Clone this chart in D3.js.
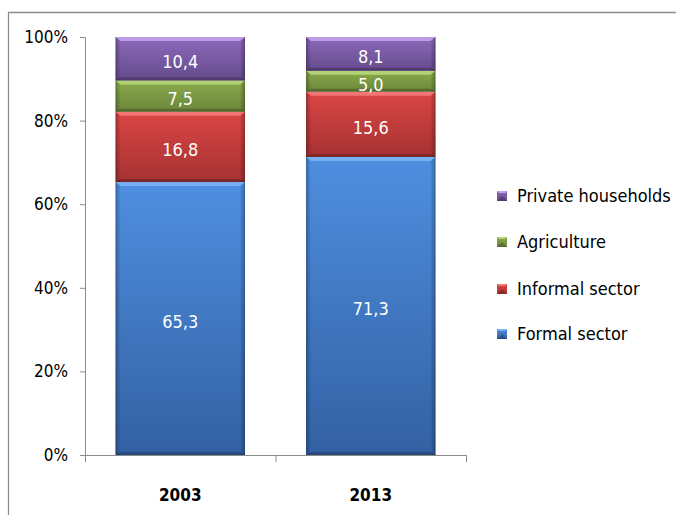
<!DOCTYPE html>
<html><head><meta charset="utf-8">
<script src="https://cdn.jsdelivr.net/npm/d3@7"></script>
<style>
html,body{margin:0;padding:0;background:#fff;}
text{font-family:"Liberation Sans Narrow","Arial Narrow","DejaVu Sans Condensed",sans-serif;}
</style></head><body>
<script>
const categories = ["2003", "2013"];
const seriesNames = ["Formal sector", "Informal sector", "Agriculture", "Private households"];
const formalSector = [65.3, 71.3];
const informalSector = [16.8, 15.6];
const agriculture = [7.5, 5.0];
const privateHouseholds = [10.4, 8.1];
const yTicks = [0, 20, 40, 60, 80, 100];
const valueLabels = [["65,3","71,3"],["16,8","15,6"],["7,5","5,0"],["10,4","8,1"]];

const seriesValues = [formalSector, informalSector, agriculture, privateHouseholds];
const colors = [
  {top:"#4f8fe0", mid:"#3f78c8", bot:"#3361a3", hi:"#7ab4f4"},
  {top:"#dc4646", mid:"#c83c3c", bot:"#a53131", hi:"#f57a7a"},
  {top:"#8aab4c", mid:"#7c9a43", bot:"#6b863a", hi:"#b6d67a"},
  {top:"#8c69ba", mid:"#7a5ba6", bot:"#654b8c", hi:"#c2a2ec"}
];

const W = 676, H = 515;
const svg = d3.select("body").append("svg").attr("width", W).attr("height", H);

// frame
svg.append("line").attr("x1",8).attr("x2",W).attr("y1",12.5).attr("y2",12.5).attr("stroke","#8c8c8c").attr("stroke-width",1.5);
svg.append("line").attr("x1",8.5).attr("x2",8.5).attr("y1",12).attr("y2",H).attr("stroke","#8c8c8c").attr("stroke-width",1.2);

const x = d3.scaleBand().domain(categories).range([85, 466]).paddingInner(0.32).paddingOuter(0.16);
const y = d3.scaleLinear().domain([0, 100]).range([455, 37]);

const table = categories.map((c, i) => {
  const row = {cat: c};
  seriesNames.forEach((s, j) => row[s] = seriesValues[j][i]);
  return row;
});
const stacked = d3.stack().keys(seriesNames)(table);

const defs = svg.append("defs");
colors.forEach((c, j) => {
  const g = defs.append("linearGradient").attr("id","g"+j).attr("x1",0).attr("x2",0).attr("y1",0).attr("y2",1);
  g.append("stop").attr("offset","0%").attr("stop-color",c.top);
  g.append("stop").attr("offset","100%").attr("stop-color",c.bot);
});
const side = defs.append("linearGradient").attr("id","side").attr("x1",0).attr("x2",1).attr("y1",0).attr("y2",0);
side.append("stop").attr("offset","0%").attr("stop-color","#000").attr("stop-opacity",0.28);
side.append("stop").attr("offset","4%").attr("stop-color","#000").attr("stop-opacity",0);
side.append("stop").attr("offset","96%").attr("stop-color","#000").attr("stop-opacity",0);
side.append("stop").attr("offset","100%").attr("stop-color","#000").attr("stop-opacity",0.3);

// axes
const yAxis = d3.axisLeft(y).tickValues(yTicks).tickFormat(d => d + "%").tickSize(5).tickPadding(12);
const ya = svg.append("g").attr("transform","translate(85,0)").call(yAxis);
ya.select(".domain").attr("stroke","#8c8c8c").attr("d","M-5,455.5H0.5V37.5H-5");
ya.selectAll(".tick line").attr("stroke","#8c8c8c");
ya.selectAll(".tick text").attr("font-size",17).attr("fill","#000")
  .attr("font-family","'Liberation Sans Narrow','Arial Narrow','DejaVu Sans Condensed',sans-serif");

const xa = svg.append("g");
xa.append("line").attr("x1",85).attr("x2",466).attr("y1",455.5).attr("y2",455.5).attr("stroke","#8c8c8c");
const xt = [85, x("2003") + x.bandwidth() + (x.step()-x.bandwidth())/2, 466];
xa.selectAll("line.t").data(xt).join("line").attr("class","t")
  .attr("x1",d=>d+0.5).attr("x2",d=>d+0.5).attr("y1",455).attr("y2",462).attr("stroke","#8c8c8c");
xa.selectAll("text").data(categories).join("text")
  .attr("x", d => x(d) + x.bandwidth()/2).attr("y", 501)
  .attr("text-anchor","middle").attr("font-size",17).attr("font-weight","bold").attr("fill","#000").text(d => d);

// bars
stacked.forEach((layer, j) => {
  const g = svg.append("g");
  layer.forEach((d, i) => {
    const x0 = x(categories[i]), w = x.bandwidth();
    const y0 = y(d[1]), h = y(d[0]) - y(d[1]);
    g.append("rect").attr("x",x0).attr("y",y0).attr("width",w).attr("height",h).attr("fill","url(#g"+j+")");
    g.append("rect").attr("x",x0).attr("y",y0).attr("width",w).attr("height",h).attr("fill","url(#side)");
    g.append("path").attr("d",`M${x0},${y0}H${x0+w}L${x0+w-5},${y0+4}H${x0+5}Z`).attr("fill",colors[j].hi).attr("opacity",0.9);
    g.append("path").attr("d",`M${x0},${y0+h}H${x0+w}L${x0+w-5},${y0+h-3}H${x0+5}Z`).attr("fill","#000").attr("opacity",0.22);
    g.append("text").attr("x", x0 + w/2).attr("y", y0 + h/2 + 3).attr("dy","0.35em")
      .attr("text-anchor","middle").attr("fill","#fff").attr("font-size",18).text(valueLabels[j][i]);
  });
});

// legend
const legendOrder = [3, 2, 1, 0];
const legendY = [196, 242, 289, 334];
legendOrder.forEach((j, k) => {
  const ly = legendY[k];
  const lg = svg.append("g");
  lg.append("rect").attr("x",497).attr("y",ly-5).attr("width",10).attr("height",10).attr("fill","url(#g"+j+")");
  lg.append("path").attr("d",`M497,${ly-5}H507L505,${ly-3}H499Z`).attr("fill",colors[j].hi);
  lg.append("path").attr("d",`M497,${ly+5}H507L502,${ly}Z`).attr("fill","#000").attr("opacity",0.2);
  lg.append("text").attr("x",517).attr("y",ly).attr("dy","0.35em").attr("font-size",18).attr("fill","#000").text(seriesNames[j]);
});
</script>
</body></html>
